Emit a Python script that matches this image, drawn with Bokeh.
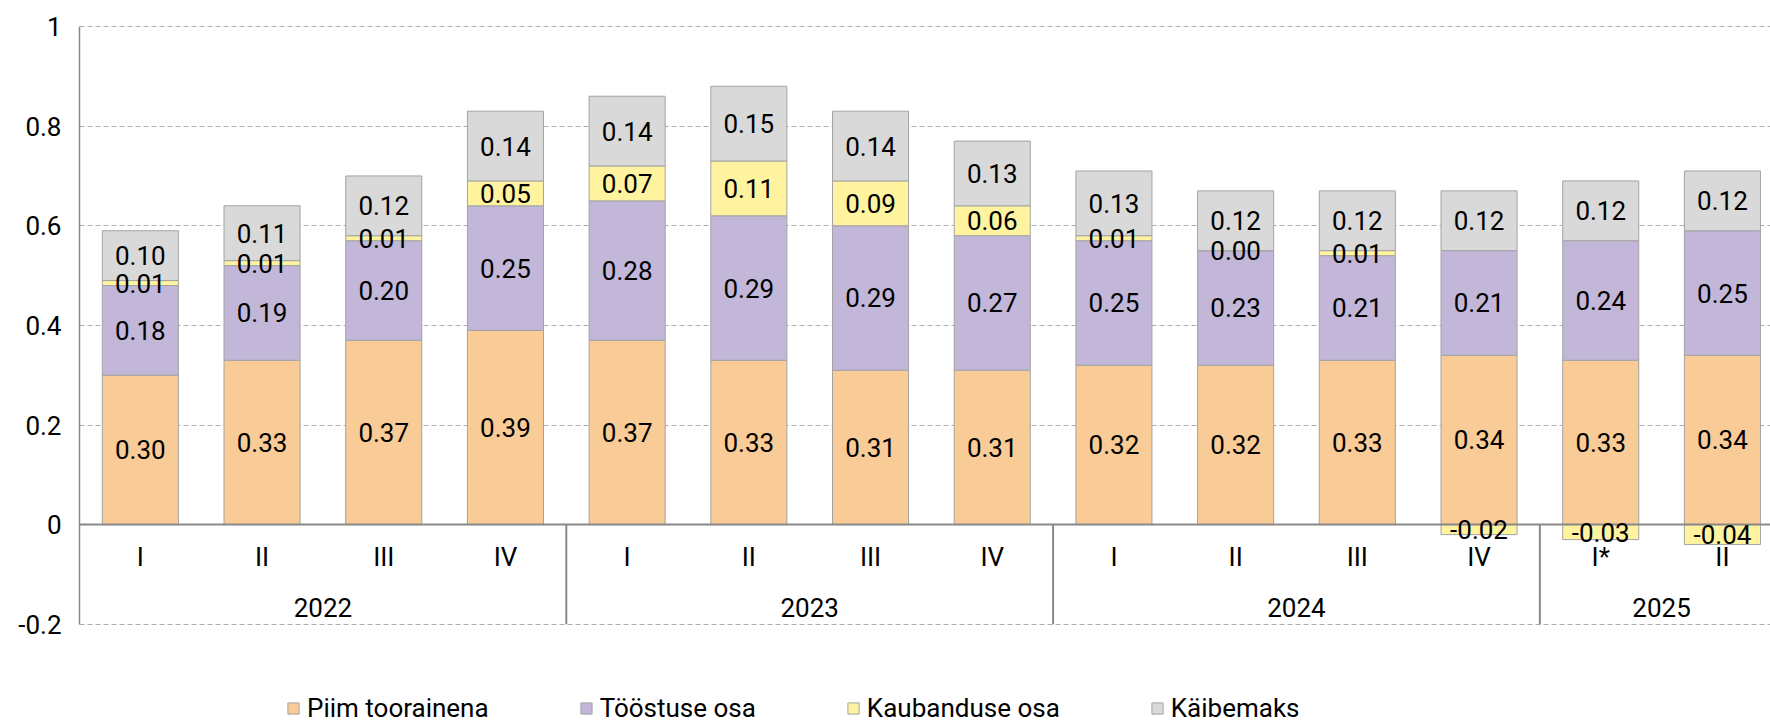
import numpy as np
from bokeh.plotting import figure
from bokeh.models import Range1d, LinearAxis, FixedTicker, Legend, LegendItem, ColumnDataSource
from bokeh.core.properties import value
from bokeh.embed import file_html
from bokeh.resources import INLINE

# ---- data ----
years = ["2022", "2023", "2024", "2025"]
quarters_per_year = [4, 4, 4, 2]
quarters = ["I", "II", "III", "IV", "I", "II", "III", "IV", "I", "II", "III", "IV", "I*", "II"]
piim = [0.30, 0.33, 0.37, 0.39, 0.37, 0.33, 0.31, 0.31, 0.32, 0.32, 0.33, 0.34, 0.33, 0.34]
toostus = [0.18, 0.19, 0.20, 0.25, 0.28, 0.29, 0.29, 0.27, 0.25, 0.23, 0.21, 0.21, 0.24, 0.25]
kaubandus = [0.01, 0.01, 0.01, 0.05, 0.07, 0.11, 0.09, 0.06, 0.01, 0.00, 0.01, -0.02, -0.03, -0.04]
kaibemaks = [0.10, 0.11, 0.12, 0.14, 0.14, 0.15, 0.14, 0.13, 0.13, 0.12, 0.12, 0.12, 0.12, 0.12]
series_names = ["Piim toorainena", "Tööstuse osa", "Kaubanduse osa", "Käibemaks"]
colors = ["#F9CB96", "#C2B7D9", "#FFF3A0", "#D9D9D9"]
y_ticks = [-0.2, 0, 0.2, 0.4, 0.6, 0.8, 1]
y_tick_labels = ["-0.2", "0", "0.2", "0.4", "0.6", "0.8", "1"]

FONT_NAME = "Roboto"
FONT = value(FONT_NAME)
FS = "26px"
AXIS_GREY = "#898989"
EDGE_GREY = "#a3a3a3"

n = len(quarters)
x = np.arange(n)
a = np.array(piim)
b = np.array(toostus)
c = np.array(kaubandus)
d = np.array(kaibemaks)

pos_c = np.where(c >= 0, c, 0.0)
segs = [
    (np.zeros(n), a),
    (a, a + b),
    (np.where(c >= 0, a + b, 0.0), np.where(c >= 0, a + b + c, c)),
    (a + b + pos_c, a + b + pos_c + d),
]
vals = [a, b, c, d]

y_min, y_max = y_ticks[0], y_ticks[-1]

# frame spans from just above y=1 down to the bottom of the figure (legend lives inside)
p = figure(width=1770, height=724,
           x_range=Range1d(-0.5, 13.395), y_range=Range1d(-0.4012, 1.004),
           x_axis_type=None, output_backend="svg", toolbar_location=None,
           min_border_left=79, min_border_right=0, min_border_top=24, min_border_bottom=0)
p.outline_line_color = None
p.background_fill_color = "white"
p.border_fill_color = "white"

# y axis
p.yaxis.ticker = FixedTicker(ticks=y_ticks)
p.yaxis.bounds = (y_min, y_max)
p.yaxis.major_label_overrides = dict(zip(y_ticks, y_tick_labels))
p.yaxis.major_tick_line_color = None
p.yaxis.minor_tick_line_color = None
p.yaxis.major_tick_out = 0
p.yaxis.major_tick_in = 0
p.yaxis.major_label_standoff = 18
p.yaxis.axis_line_color = AXIS_GREY
p.yaxis.axis_line_width = 1.5
p.yaxis.major_label_text_font = FONT_NAME
p.yaxis.major_label_text_font_size = FS
p.yaxis.major_label_text_color = "black"

p.ygrid.ticker = FixedTicker(ticks=y_ticks)
p.ygrid.grid_line_color = "#adadad"
p.ygrid.grid_line_dash = "5 3"
p.ygrid.grid_line_width = 1

# group separators
bounds = np.cumsum(quarters_per_year)[:-1] - 0.5
p.segment(x0=bounds, y0=[0] * len(bounds), x1=bounds, y1=[y_min] * len(bounds),
          line_color=AXIS_GREY, line_width=2)

# bars
renderers = []
for (bot, top), col in zip(segs, colors):
    r = p.vbar(x=x, width=0.625, bottom=bot, top=top, fill_color=col,
               line_color=EDGE_GREY, line_width=1)
    renderers.append(r)

# labels
lx, ly, lt = [], [], []
for (bot, top), v in zip(segs, vals):
    for i in range(n):
        lx.append(x[i])
        ly.append((bot[i] + top[i]) / 2)
        lt.append(f"{v[i]:.2f}")
src = ColumnDataSource(dict(x=lx, y=ly, t=lt))
p.text(x="x", y="y", text="t", source=src, text_font=FONT, text_font_size=FS,
       text_align="center", text_baseline="middle", text_color="black", level="annotation")

# x axes (quarters and years) at y = 0
ax_q = LinearAxis(fixed_location=0, ticker=FixedTicker(ticks=list(range(n))),
                  major_label_overrides={i: q for i, q in enumerate(quarters)})
ax_q.axis_line_color = AXIS_GREY
ax_q.axis_line_width = 2
ax_q.major_tick_line_color = None
ax_q.minor_tick_line_color = None
ax_q.major_tick_out = 0
ax_q.major_tick_in = 0
ax_q.major_label_standoff = 17
ax_q.major_label_text_font = FONT_NAME
ax_q.major_label_text_font_size = FS
ax_q.major_label_text_color = "black"
p.add_layout(ax_q, "below")

starts = np.concatenate([[0], np.cumsum(quarters_per_year)[:-1]])
centers = [float(s + (k - 1) / 2) for s, k in zip(starts, quarters_per_year)]
ax_y = LinearAxis(fixed_location=0, ticker=FixedTicker(ticks=centers),
                  major_label_overrides={cc: yy for cc, yy in zip(centers, years)})
ax_y.axis_line_color = None
ax_y.major_tick_line_color = None
ax_y.minor_tick_line_color = None
ax_y.major_tick_out = 0
ax_y.major_tick_in = 0
ax_y.major_label_standoff = 73
ax_y.major_label_text_font = FONT_NAME
ax_y.major_label_text_font_size = FS
ax_y.major_label_text_color = "black"
p.add_layout(ax_y, "below")

legend = Legend(items=[LegendItem(label=nm, renderers=[r]) for nm, r in zip(series_names, renderers)],
                location=(207, 1), orientation="horizontal",
                glyph_width=14, glyph_height=14, label_standoff=7, spacing=90,
                padding=0, margin=0, background_fill_alpha=0, border_line_color=None,
                label_text_font=FONT_NAME, label_text_font_size=FS, label_text_color="black")
p.add_layout(legend, "center")

open("out.html", "w").write(file_html(p, INLINE))
